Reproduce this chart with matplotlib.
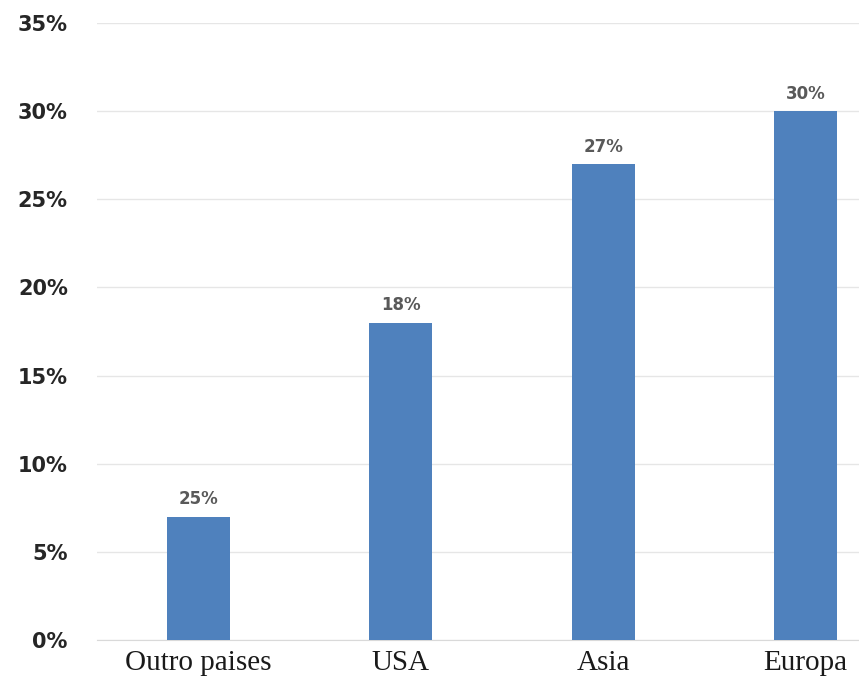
import matplotlib

matplotlib.use('Agg')
import matplotlib.pyplot as plt

categories = ['Outro paises', 'USA', 'Asia', 'Europa']
values = [7, 18, 27, 30]
bar_labels = ['25%', '18%', '27%', '30%']
y_ticks = [0, 5, 10, 15, 20, 25, 30, 35]

fig = plt.figure(figsize=(8.59, 6.78), dpi=100)
ax = fig.add_axes((97 / 859, 1 - 640 / 678, 1 - 97 / 859, (640 - 23) / 678))

x = range(len(categories))
bars = ax.bar(x, values, width=0.31, color='#4f81bd', zorder=3)

for rect, txt in zip(bars, bar_labels):
    ax.annotate(txt, (rect.get_x() + rect.get_width() / 2, rect.get_height()),
                xytext=(0, 6), textcoords='offset points', ha='center', va='bottom',
                fontsize=12, fontweight='bold', color='#595959')

ax.set_ylim(0, 35)
ax.set_xlim(-0.5, 3.263)
ax.set_yticks(y_ticks)
ax.set_yticklabels([f'{t}%' for t in y_ticks], fontsize=15, fontweight='bold', color='#262626')
ax.set_xticks(list(x))
ax.set_xticklabels(categories, fontsize=21, family='Liberation Serif', color='#1a1a1a')
ax.tick_params(axis='y', length=0, pad=21)
ax.tick_params(axis='x', length=0, pad=7)

ax.grid(axis='y', color='#e6e6e6', linewidth=1, zorder=0)
for side in ['top', 'right', 'left']:
    ax.spines[side].set_visible(False)
ax.spines['bottom'].set_color('#d9d9d9')

fig.savefig('out.png', dpi=100)
